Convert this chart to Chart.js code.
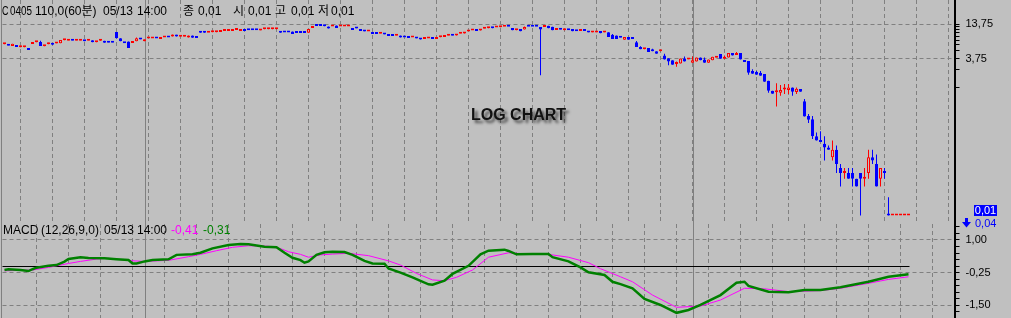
<!DOCTYPE html>
<html><head><meta charset="utf-8">
<script src="https://cdn.jsdelivr.net/npm/chart.js@4.4.1/dist/chart.umd.min.js"></script>
<style>
html,body{margin:0;padding:0;background:#C0C0C0;}
#wrap{position:relative;width:1011px;height:318px;background:#C0C0C0;overflow:hidden;font-family:"Liberation Sans","Noto Sans CJK KR",sans-serif;}
canvas{position:absolute;left:0;}
#c1{top:0;}
#c2{top:224px;}
.t{position:absolute;font-size:12px;line-height:14px;white-space:nowrap;color:#000;}
.s{font-size:11px;}
.n{transform-origin:0 0;}
</style></head><body>
<div id="wrap">
<canvas id="c1" width="1011" height="224"></canvas>
<canvas id="c2" width="1011" height="94"></canvas>
<div style="position:absolute;left:1px;top:0;width:1px;height:318px;background:#808080"></div>
<div class="t n" style="left:2px;top:4px;transform:scaleX(0.75)">C</div>
<div class="t n" style="left:10px;top:4px;transform:scaleX(0.82)">0405</div>
<div class="t" style="left:35px;top:4px">110,0(60분)</div>
<div class="t" style="left:103px;top:4px">05/13</div>
<div class="t" style="left:137px;top:4px">14:00</div>
<div class="t" style="left:183px;top:4px">종</div>
<div class="t" style="left:198px;top:4px">0,01</div>
<div class="t" style="left:233px;top:4px">시</div>
<div class="t" style="left:248px;top:4px">0,01</div>
<div class="t" style="left:275px;top:4px">고</div>
<div class="t" style="left:291px;top:4px">0,01</div>
<div class="t" style="left:318px;top:4px">저</div>
<div class="t" style="left:331px;top:4px">0,01</div>
<div class="t" style="left:3px;top:223px">MACD</div>
<div class="t" style="left:41px;top:223px">(12,26,9,0)</div>
<div class="t" style="left:104px;top:223px">05/13</div>
<div class="t" style="left:137px;top:223px">14:00</div>
<div class="t" style="left:171px;top:223px;color:#FF00FF">-0,41</div>
<div class="t" style="left:203px;top:223px;color:#008000">-0,31</div>
<div class="t" style="left:471px;top:106px;font-size:16px;line-height:18px;font-weight:bold;color:#111;text-shadow:3px 3px 3px rgba(0,0,0,0.6)">LOG CHART</div>
<div class="t s" style="left:974px;top:205px;width:23px;height:11px;line-height:11px;background:#0000FF;color:#fff;text-align:center">0,01</div>
<svg style="position:absolute;left:962px;top:218px" width="9" height="10" viewBox="0 0 9 10"><rect x="3" y="0" width="3" height="5" fill="#0000FF"/><polygon points="0,4 9,4 4.5,9.5" fill="#0000FF"/></svg>
<div class="t s" style="left:975px;top:216px;color:#0000FF">0,04</div>
</div>
<script>
// ---- data ----
const opens = [
6.45,6.1,6.0,5.85,5.75,5.75,5.6,6.5,6.95,7.0,
5.95,6.45,6.35,6.6,6.65,7.5,7.35,7.4,7.35,7.35,
7.25,7.35,7.45,6.95,7.35,7.35,6.85,6.85,10.2,8.05,
6.7,7.1,6.75,7.2,7.75,7.2,7.95,7.95,8.0,7.8,
8.25,8.3,8.6,9.2,8.55,8.55,8.3,8.9,8.2,10.0,
10.0,9.9,10.15,10.15,10.2,10.55,10.6,10.6,10.95,10.6,
11.4,10.9,10.9,10.9,10.8,11.35,11.35,11.35,11.35,10.6,
10.05,10.05,10.4,9.85,9.85,9.9,9.95,11.85,12.85,12.85,
12.75,12.6,12.55,13.0,12.55,12.55,12.55,11.9,11.7,11.4,
10.45,10.35,10.2,9.5,9.55,9.35,9.45,8.8,8.85,8.9,
8.3,8.15,8.25,8.05,8.15,7.8,7.95,7.85,7.8,8.4,
8.45,8.85,8.9,8.9,9.55,9.6,10.35,10.75,10.65,10.8,
11.55,11.8,11.85,12.05,12.25,12.4,12.45,11.85,10.85,11.4,
11.2,12.45,12.45,12.45,12.3,12.3,12.9,12.4,11.0,11.2,
10.85,10.9,11.4,10.5,10.55,10.6,10.1,10.05,10.05,10.6,
10.05,10.1,9.2,8.95,8.25,7.6,8.45,7.9,6.9,5.8,
5.3,5.55,5.0,4.95,4.95,4.2,3.8,3.5,3.05,3.1,
3.75,3.6,3.2,3.35,3.9,3.6,3.2,3.5,3.85,4.45,
3.7,3.9,4.6,4.3,4.6,3.55,3.4,2.34,2.25,2.19,
2.09,1.62,1.11,1.05,1.03,1.16,1.14,1.26,1.06,1.19,
0.75,0.43,0.38,0.2,0.17,0.15,0.13,0.09,0.12,0.06,
0.05,0.05,0.05,0.04,0.05,0.04,0.05,0.09,0.07,0.04,
0.05,0.01,0.01,0.01,0.01,0.01,0.01];
const highs = [
6.65,6.1,6.55,5.85,5.8,5.8,5.6,7.0,7.0,7.3,
6.0,6.8,6.6,6.65,7.55,7.55,7.4,7.4,7.4,7.4,
7.25,7.4,7.45,7.0,7.65,7.35,6.85,6.85,10.2,8.05,
6.7,7.1,6.8,8.3,7.75,7.7,8.0,8.0,8.0,8.3,
8.3,8.3,9.3,9.2,8.6,8.6,8.9,8.9,8.2,10.6,
10.5,9.95,10.2,10.2,10.6,10.6,11.0,11.0,11.0,11.4,
11.4,10.9,10.9,10.9,10.85,11.4,11.8,11.4,11.4,10.6,
10.05,10.05,10.4,9.85,9.85,9.9,11.4,11.9,13.3,12.85,
12.75,12.6,12.6,13.0,12.6,12.6,12.6,11.9,11.7,11.4,
10.45,10.4,10.2,9.5,9.6,9.35,9.45,8.8,8.9,8.9,
8.3,8.15,8.3,8.05,8.15,7.85,8.0,7.85,8.3,8.45,
8.9,8.9,8.9,9.45,9.6,10.2,10.4,10.8,10.65,11.4,
11.6,11.85,11.85,12.1,12.3,12.45,12.45,11.85,11.4,11.4,
12.6,12.45,12.45,12.45,12.3,12.9,12.9,12.4,11.7,11.2,
11.4,10.9,11.4,10.5,10.9,11.0,10.1,10.1,10.1,10.6,
10.1,10.1,9.45,8.95,8.25,8.45,8.45,8.1,7.25,5.95,
5.55,5.55,5.4,4.95,5.0,4.5,3.8,3.5,3.35,3.75,
4.05,3.65,4.05,3.9,3.9,3.9,3.6,4.0,3.9,4.45,
4.2,4.6,4.6,4.8,4.6,3.55,3.4,2.49,2.34,2.34,
2.09,1.62,1.11,1.47,1.38,1.43,1.43,1.26,1.26,1.19,
0.81,0.46,0.43,0.23,0.24,0.2,0.14,0.17,0.14,0.07,
0.06,0.06,0.06,0.04,0.05,0.06,0.12,0.12,0.1,0.06,
0.06,0.02,0.01,0.01,0.01,0.01,0.01];
const lows = [
6.45,6.05,6.0,5.8,5.75,5.75,5.15,6.5,6.95,6.0,
5.95,6.45,6.3,6.6,6.65,7.5,7.35,7.35,7.35,7.35,
7.2,7.35,6.9,6.95,7.35,6.8,6.8,6.8,8.05,7.2,
6.65,5.6,6.75,7.2,7.7,7.2,7.95,7.95,7.95,7.8,
8.25,8.25,8.6,8.6,8.55,8.55,8.3,8.2,8.15,9.95,
9.95,9.9,10.15,10.15,10.2,10.55,10.6,10.6,10.95,10.6,
10.6,10.85,10.85,10.85,10.8,11.35,11.35,11.35,11.35,9.9,
10.0,10.0,9.45,9.8,9.8,9.85,9.95,11.85,12.8,12.8,
12.7,11.6,12.55,11.9,12.55,12.55,12.55,11.0,11.65,10.6,
10.4,10.35,9.45,9.45,9.55,9.3,8.75,8.75,8.85,8.3,
8.25,8.1,8.25,8.0,7.7,7.8,7.95,7.8,7.8,8.4,
8.45,8.85,8.85,8.9,9.55,9.6,10.35,10.75,10.6,10.8,
11.55,11.8,11.8,12.05,12.25,12.4,12.4,10.85,10.85,10.45,
11.2,12.4,12.4,12.4,2.0,12.3,11.7,10.85,11.0,11.15,
10.85,10.85,10.45,10.45,10.55,10.55,10.05,10.05,10.05,9.7,
10.05,8.45,7.85,7.85,8.2,7.6,7.6,7.85,5.8,5.3,
5.3,4.8,4.95,4.5,4.95,3.6,2.9,2.95,2.75,3.1,
3.35,3.6,3.2,3.35,3.5,3.2,3.2,3.5,3.85,3.7,
3.7,3.9,4.2,4.3,3.6,3.3,2.03,2.11,2.03,1.96,
1.56,1.03,0.99,0.61,0.92,0.98,0.98,0.92,0.98,1.07,
0.42,0.33,0.18,0.17,0.16,0.08,0.12,0.08,0.05,0.03,
0.04,0.04,0.03,0.03,0.01,0.03,0.04,0.07,0.03,0.03,
0.04,0.01,0.01,0.01,0.01,0.01,0.01];
const closes = [
6.5,6.05,6.55,5.8,5.8,5.8,5.15,7.0,7.0,6.0,
6.0,6.5,6.3,6.65,7.55,7.55,7.4,7.35,7.4,7.4,
7.2,7.4,6.9,7.0,7.4,6.8,6.8,6.8,8.05,7.2,
6.65,5.6,6.8,8.05,7.7,7.7,8.0,8.0,7.95,8.3,
8.3,8.25,9.3,8.6,8.6,8.6,8.9,8.2,8.15,9.95,
9.95,9.95,10.2,10.2,10.6,10.6,11.0,11.0,11.0,11.4,
10.6,10.85,10.85,10.85,10.85,11.4,11.4,11.4,11.4,9.9,
10.0,10.0,9.45,9.8,9.8,9.85,11.4,11.9,12.8,12.8,
12.7,11.6,12.6,11.9,12.6,12.6,12.6,11.0,11.65,10.6,
10.4,10.4,9.45,9.45,9.6,9.3,8.75,8.75,8.9,8.3,
8.25,8.1,8.3,8.0,7.7,7.85,8.0,7.8,8.3,8.45,
8.9,8.9,8.85,9.45,9.6,10.2,10.4,10.8,10.6,11.4,
11.6,11.85,11.8,12.1,12.3,12.45,12.4,10.85,11.4,10.45,
12.3,12.4,12.4,12.4,11.2,12.9,11.7,10.85,11.7,11.15,
11.4,10.85,10.45,10.45,10.6,10.55,10.05,10.1,10.1,9.7,
10.1,8.45,7.85,7.85,8.2,8.45,7.6,7.85,5.8,5.3,
5.55,4.8,4.95,4.5,5.0,3.6,3.35,2.95,3.1,3.75,
3.35,3.65,3.5,3.9,3.5,3.2,3.6,4.0,3.9,3.7,
4.0,4.6,4.2,4.6,3.6,3.3,2.19,2.11,2.03,1.96,
1.56,1.11,0.99,1.06,1.14,1.17,1.26,1.07,1.2,1.07,
0.42,0.37,0.2,0.17,0.16,0.13,0.12,0.12,0.07,0.05,
0.05,0.04,0.04,0.03,0.04,0.04,0.09,0.08,0.03,0.06,
0.05,0.01,0.01,0.01,0.01,0.01,0.01];

// MACD (green) and signal (magenta) lines, read at candle positions
const macdIdx = [0,1,4,6,7,8,11,13,15,16,19,21,25,28,31,32,33,35,37,41,43,47,49,52,56,59,61,65,68,70,72,74,75,76,78,80,82,85,87,90,92,95,96,99,102,106,107,110,112,116,119,121,125,126,128,132,136,137,141,144,146,150,152,154,157,160,164,168,171,174,179,183,185,186,191,196,200,204,209,216,221,226];
const macdVals = [-0.15,-0.12,-0.15,-0.19,-0.12,-0.06,0.01,0.04,0.17,0.27,0.34,0.31,0.30,0.26,0.23,0.10,0.10,0.18,0.23,0.26,0.43,0.45,0.51,0.68,0.81,0.85,0.84,0.74,0.72,0.51,0.32,0.23,0.13,0.18,0.43,0.53,0.55,0.54,0.43,0.20,0.10,0.09,-0.09,-0.25,-0.43,-0.70,-0.71,-0.56,-0.30,0.01,0.45,0.59,0.63,0.58,0.45,0.46,0.46,0.34,0.18,-0.05,-0.24,-0.34,-0.60,-0.69,-0.85,-1.26,-1.49,-1.79,-1.68,-1.49,-1.11,-0.64,-0.60,-0.76,-0.98,-1.00,-0.92,-0.92,-0.81,-0.60,-0.41,-0.31];
const signalIdx = [0,7,11,16,19,23,26,31,35,41,46,49,53,57,61,66,69,71,74,76,79,82,86,91,96,99,103,107,110,113,117,121,126,131,136,141,146,149,154,157,162,168,174,179,185,190,196,204,209,216,221,226];
const signalVals = [-0.18,-0.15,-0.05,0.10,0.18,0.27,0.30,0.21,0.18,0.22,0.36,0.45,0.59,0.72,0.78,0.76,0.67,0.55,0.45,0.34,0.43,0.46,0.49,0.40,0.20,0.04,-0.28,-0.53,-0.56,-0.43,-0.15,0.34,0.51,0.46,0.45,0.34,0.13,-0.10,-0.41,-0.60,-1.11,-1.58,-1.53,-1.30,-0.85,-0.87,-0.98,-0.94,-0.85,-0.66,-0.51,-0.41];

// ticks
const gridIdx = [8,16,24,32,40,48,56,64,72,80,88,96,104,112,120,128,136,144,152,160,168,176,184,192,200,208,216,224,232];
const monthBreaks = [35,172];
const priceTicks = [1.25,2.5,3.75,5,6.25,7.5,8.75,10,11.25,12.5,13.75];
const priceLabels = [3.75,13.75];
const macdTicks = [-1.75,-1.5,-1.25,-1,-0.75,-0.5,-0.25,0,0.25,0.5,0.75,1,1.25,1.5];
const macdLabels = [-1.5,-0.25,1];

// ---- rendering ----
const X_MIN = -0.5, X_MAX = 237.5;
const P_MIN = 0.0072607, P_MAX = 34.13;
const M_MIN = -1.989, M_MAX = 1.613;
const GRID = '#808080', RED = '#FF0000', BLUE = '#0000FF', BG = '#C0C0C0';

Chart.defaults.font.family = '"Liberation Sans","DejaVu Sans",sans-serif';
Chart.defaults.font.size = 11;
Chart.defaults.color = '#000';

const fmt = v => v.toFixed(2).replace('.', ',');

function xAxis() {
  return {
    type: 'linear', min: X_MIN, max: X_MAX, bounds: 'data', offset: false,
    afterBuildTicks: s => { s.ticks = gridIdx.map(v => ({value: v})); },
    afterFit: s => { s.height = 0; s.paddingLeft = 0; s.paddingRight = 0; },
    ticks: {display: false},
    grid: {color: GRID, lineWidth: 1, drawTicks: false},
    border: {display: false, dash: [4, 3]}
  };
}
function yAxis(type, min, max, tickVals, labelVals) {
  return {
    type, position: 'right', min, max, bounds: 'data',
    afterBuildTicks: s => { s.ticks = tickVals.map(v => ({value: v})); },
    afterFit: s => { s.width = 56.5; s.paddingTop = 0; s.paddingBottom = 0; },
    ticks: {autoSkip: false, padding: 6, color: '#000', maxRotation: 0,
      callback: v => labelVals.includes(v) ? fmt(v) : ''},
    grid: {
      color: c => (c.tick && labelVals.includes(c.tick.value)) ? GRID : 'rgba(0,0,0,0)',
      tickColor: '#000', tickLength: 5, tickWidth: 1, lineWidth: 1
    },
    border: {display: true, color: '#000', width: 2, dash: [4, 3]}
  };
}
const monthLinePlugin = {
  id: 'monthLines',
  beforeDatasetsDraw(chart) {
    const {ctx, chartArea: a, scales: {x}} = chart;
    ctx.save();
    ctx.strokeStyle = GRID; ctx.lineWidth = 1;
    monthBreaks.forEach(v => {
      const px = Math.round(x.getPixelForValue(v)) + 0.5;
      ctx.beginPath(); ctx.moveTo(px, a.top); ctx.lineTo(px, a.bottom); ctx.stroke();
    });
    ctx.restore();
  }
};
const zeroLinePlugin = {
  id: 'zeroLine',
  beforeDatasetsDraw(chart) {
    const {ctx, chartArea: a, scales: {x, y}} = chart;
    const py = Math.round(y.getPixelForValue(0)) + 0.5;
    ctx.save();
    ctx.strokeStyle = '#000'; ctx.lineWidth = 1;
    ctx.beginPath(); ctx.moveTo(a.left, py);
    ctx.lineTo(x.getPixelForValue(closes.length - 1) + 1, py); ctx.stroke();
    ctx.restore();
  }
};

const idx = closes.map((_, i) => i);
const up = closes.map((c, i) => c > opens[i] || (c === opens[i] && (i === 0 || c >= closes[i - 1])));

new Chart(document.getElementById('c1'), {
  type: 'bar',
  data: {
    datasets: [
      {
        data: idx.map(i => ({x: i, y: [lows[i], highs[i]]})),
        backgroundColor: up.map(u => u ? RED : BLUE),
        borderWidth: 0, barThickness: 1, grouped: false, order: 1, inflateAmount: 0
      },
      {
        data: idx.map(i => ({x: i, y: [opens[i], closes[i]]})),
        backgroundColor: up.map(u => u ? BG : BLUE),
        borderColor: up.map(u => u ? RED : BLUE),
        borderWidth: 1, borderSkipped: false, barThickness: 3, minBarLength: 2,
        grouped: false, order: 0, inflateAmount: 0
      }
    ]
  },
  options: {
    responsive: false, animation: false, devicePixelRatio: 1, events: [],
    layout: {padding: {left: 2.5, right: 0, top: 0, bottom: 0}},
    plugins: {legend: {display: false}, tooltip: {enabled: false}},
    scales: {x: xAxis(), y: yAxis('logarithmic', P_MIN, P_MAX, priceTicks, priceLabels)}
  },
  plugins: [monthLinePlugin]
});

new Chart(document.getElementById('c2'), {
  type: 'line',
  data: {
    datasets: [
      {
        data: macdIdx.map((x, k) => ({x, y: macdVals[k]})),
        borderColor: '#008000', borderWidth: 2.5, pointRadius: 0, tension: 0, order: 0
      },
      {
        data: signalIdx.map((x, k) => ({x, y: signalVals[k]})),
        borderColor: '#FF00FF', borderWidth: 1, pointRadius: 0, tension: 0, order: 1
      }
    ]
  },
  options: {
    responsive: false, animation: false, devicePixelRatio: 1, events: [],
    layout: {padding: {left: 2.5, right: 0, top: 0, bottom: 0}},
    plugins: {legend: {display: false}, tooltip: {enabled: false}},
    scales: {x: xAxis(), y: yAxis('linear', M_MIN, M_MAX, macdTicks, macdLabels)}
  },
  plugins: [monthLinePlugin, zeroLinePlugin]
});
</script>
</body></html>
